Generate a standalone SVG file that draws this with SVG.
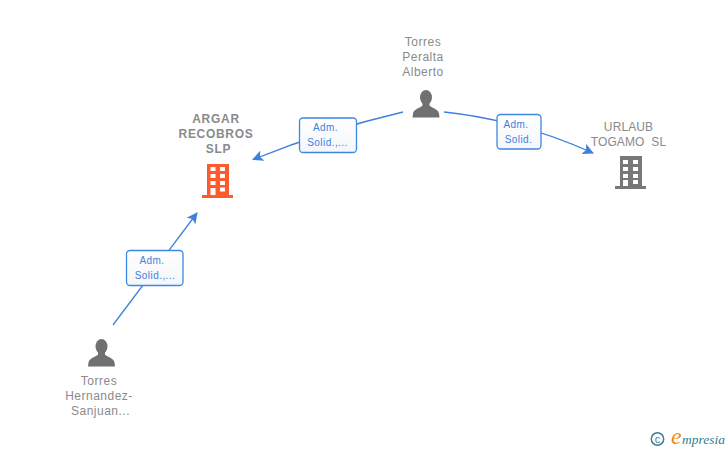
<svg xmlns="http://www.w3.org/2000/svg" width="728" height="450" viewBox="0 0 728 450">
<style>
text{font-family:"Liberation Sans",Arial,sans-serif}
.n{font-size:12px;fill:#8a8a8a;text-anchor:middle;letter-spacing:.5px;white-space:pre}
.b{font-weight:bold;letter-spacing:.7px}
.t{letter-spacing:.1px}
.l{font-size:10px;fill:#3f80dc;text-anchor:middle;letter-spacing:.45px}
.c{fill:none;stroke:#3f80dc;stroke-width:1.3}
.box{stroke:#3f87e0;stroke-width:1.3;fill:url(#g)}
.bg{fill:#707070}
.w{fill:#fff}
</style>
<defs>
<marker id="a" markerWidth="12" markerHeight="11" refX="10" refY="5.500" orient="auto" markerUnits="userSpaceOnUse"><path d="M0 0L11 5.500L0 11L2.500 5.500Z" fill="#3f80dc"/></marker>
<linearGradient id="g" x1="0" y1="0" x2="0" y2="1"><stop offset="0" stop-color="#fff"/><stop offset="1" stop-color="#f4f6f9"/></linearGradient>
<g id="person"><ellipse cx="0" cy="-20" rx="6" ry="7.500"/><path d="M-3.500-15L-3.500-12C-5-9.500-12-9-13-4L-13.500 0H13.500L13-4C12-9 5-9.500 3.500-12L3.500-15Z"/></g>
</defs>
<rect width="728" height="450" fill="#fff"/>
<g id="connectors">
<path class="c" d="M113 325L197 213" marker-end="url(#a)"/>
<path class="c" d="M403 112Q326 130 253 159.500" marker-end="url(#a)"/>
<path class="c" d="M444 112Q520 120 593 153" marker-end="url(#a)"/>
</g>
<g id="edge-label-1"><rect class="box" x="126.500" y="250.500" width="56.500" height="35" rx="3.500"/><text class="l" x="152" y="264">Adm.</text><text class="l" x="155" y="279">Solid.,...</text></g>
<g id="edge-label-2"><rect class="box" x="299.500" y="118" width="57" height="34.500" rx="3.500"/><text class="l" x="325.500" y="131">Adm.</text><text class="l" x="327.500" y="146">Solid.,...</text></g>
<g id="edge-label-3"><rect class="box" x="497" y="114.500" width="44" height="34.500" rx="3.500"/><text class="l" x="516" y="128">Adm.</text><text class="l" x="518.500" y="143">Solid.</text></g>
<g id="argar">
<text class="n b" x="216" y="123">ARGAR</text><text class="n b" x="216" y="138">RECOBROS</text><text class="n b" x="218.500" y="153">SLP</text>
<path d="M207 164H229V195H233V198H202V195H207Z" fill="#ff5a2c"/>
<g class="w"><rect x="210.500" y="167" width="5" height="4"/><rect x="220" y="167" width="5" height="4"/><rect x="210.500" y="174" width="5" height="4"/><rect x="220" y="174" width="5" height="4"/><rect x="210.500" y="181" width="5" height="4"/><rect x="220" y="181" width="5" height="4"/><rect x="210.500" y="188" width="5" height="7"/><rect x="220" y="187.500" width="5" height="4"/></g>
</g>
<g id="urlaub">
<text class="n t" x="628.500" y="131">URLAUB</text><text class="n t" x="628.500" y="146" xml:space="preserve">TOGAMO  SL</text>
<path d="M620 156H642V186H646V189H615V186H620Z" fill="#787878"/>
<g class="w"><rect x="623" y="160" width="5" height="4"/><rect x="633" y="160" width="5" height="4"/><rect x="623" y="167" width="5" height="4"/><rect x="633" y="167" width="5" height="4"/><rect x="623" y="174" width="5" height="4"/><rect x="633" y="174" width="5" height="4"/><rect x="623" y="180" width="5" height="6"/><rect x="633" y="180" width="5" height="4"/></g>
</g>
<g id="torres-peralta">
<text class="n" x="423" y="46">Torres</text><text class="n" x="423" y="61">Peralta</text><text class="n" x="423" y="76">Alberto</text>
<use href="#person" x="426" y="117.500" class="bg"/>
</g>
<g id="torres-hernandez">
<text class="n" x="99" y="385">Torres</text><text class="n" x="99" y="400">Hernandez-</text><text class="n" x="100.500" y="415">Sanjuan...</text>
<use href="#person" x="101.500" y="366.500" class="bg"/>
</g>
<g id="watermark">
<circle cx="657.500" cy="439" r="6.200" fill="none" stroke="#3d7f95" stroke-width="1.500"/>
<text x="657.500" y="442.500" font-size="11" fill="#3d7f95" text-anchor="middle">c</text>
<text x="671" y="444" font-size="24" fill="#f08a1d" font-style="italic" style="font-family:'Liberation Serif',serif">e</text>
<text x="682" y="444" font-size="13.500" fill="#2f7f8f" font-style="italic" style="font-family:'Liberation Serif',serif">mpresia</text>
</g>
</svg>
